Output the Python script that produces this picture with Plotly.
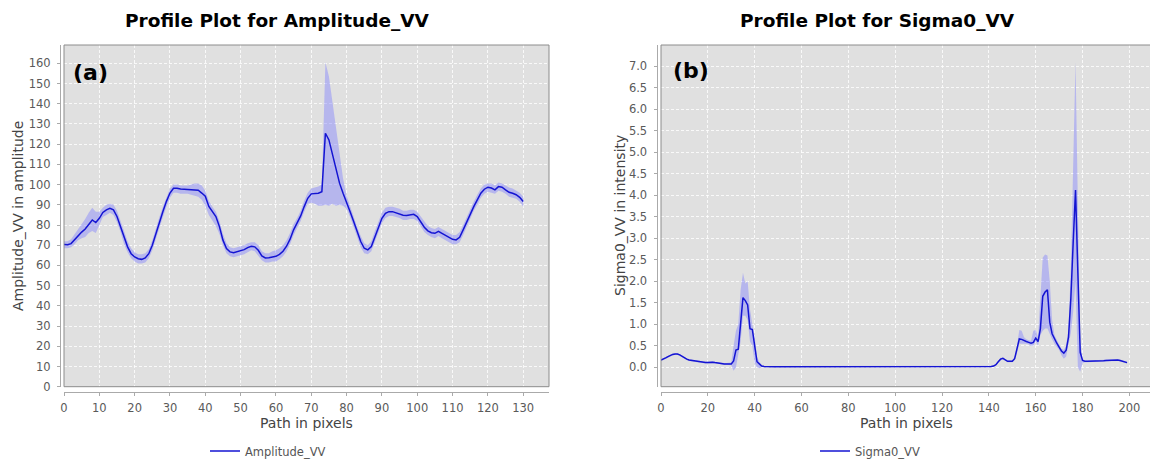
import plotly.graph_objects as go

W, H = 1150, 459

# ---------------- data: (a) Amplitude_VV ----------------
path_a = list(range(131))
amp = [
    70.3, 70.2, 70.8, 72.8, 74.7, 76.5, 78.0, 80.0, 82.5, 81.2,
    83.3, 86.2, 87.5, 88.2, 87.5, 84.2, 79.2, 73.3, 69.2, 65.8,
    64.2, 63.3, 63.0, 63.7, 65.8, 70.0, 75.8, 81.7, 86.7, 91.7,
    95.8, 98.2, 98.2, 97.8, 97.7, 97.5, 97.3, 97.2, 97.2, 95.8,
    94.2, 89.2, 86.7, 84.2, 79.2, 72.5, 68.3, 66.7, 66.3, 66.7,
    67.2, 67.8, 68.8, 69.5, 69.2, 67.5, 64.7, 63.7, 63.8, 64.2,
    64.5, 65.5, 67.0, 69.5, 73.0, 77.6, 80.9, 84.5, 89.1, 93.2,
    95.4, 95.7, 95.7, 96.5, 125.4, 122.1, 114.7, 107.3, 100.7, 95.7,
    91.6, 86.6, 81.7, 76.7, 71.8, 68.5, 67.7, 69.3, 74.3, 79.2,
    83.3, 85.8, 86.6, 86.6, 86.1, 85.5, 84.8, 84.7, 85.0, 85.3,
    84.2, 81.7, 78.9, 77.1, 76.2, 75.9, 76.9, 75.9, 74.9, 73.9,
    72.9, 72.6, 73.9, 77.6, 81.7, 85.8, 89.1, 92.4, 95.7, 97.7,
    98.7, 98.3, 97.4, 99.0, 98.7, 97.4, 96.2, 95.7, 95.0, 93.7,
    91.6,
]
amp_lo = [
    68.5, 68.5, 69.0, 70.5, 72.5, 73.5, 74.0, 76.0, 77.0, 76.0,
    80.0, 84.0, 85.0, 86.0, 85.0, 81.5, 76.5, 70.5, 66.5, 63.5,
    62.0, 61.0, 61.0, 61.5, 63.5, 67.5, 73.0, 79.0, 84.0, 89.0,
    93.5, 96.0, 96.0, 95.5, 95.5, 95.5, 95.0, 94.5, 94.0, 92.5,
    89.5, 85.0, 82.5, 79.5, 75.5, 70.0, 66.0, 64.5, 64.0, 64.5,
    65.0, 65.5, 66.5, 67.5, 67.0, 65.0, 62.5, 61.5, 61.5, 62.0,
    62.0, 63.0, 64.5, 67.0, 70.5, 75.0, 78.5, 82.0, 86.5, 90.5,
    91.0, 90.5, 89.5, 89.5, 90.0, 89.5, 90.5, 89.5, 90.0, 89.5,
    88.0, 84.0, 79.0, 74.0, 69.0, 66.0, 65.5, 67.0, 72.0, 77.0,
    81.0, 83.5, 84.5, 84.5, 84.0, 83.5, 82.5, 82.5, 83.0, 83.0,
    82.0, 79.5, 76.5, 75.0, 74.0, 73.5, 74.5, 73.5, 72.5, 71.5,
    70.5, 70.5, 71.5, 75.0, 79.0, 83.5, 87.0, 90.0, 93.5, 95.5,
    96.5, 96.0, 95.5, 97.0, 96.5, 95.5, 94.0, 93.5, 93.0, 91.5,
    89.0,
]
amp_hi = [
    72.0, 72.0, 73.0, 75.5, 78.0, 80.0, 83.0, 86.0, 88.5, 86.5,
    86.5, 88.5, 90.0, 90.5, 90.0, 87.0, 82.0, 76.0, 72.0, 68.5,
    66.5, 65.5, 65.5, 66.0, 68.0, 72.5, 78.5, 84.0, 89.0, 94.0,
    98.0, 100.0, 100.0, 99.5, 99.5, 99.5, 100.0, 100.5, 100.5, 99.5,
    97.0, 92.0, 89.0, 86.5, 82.0, 75.5, 71.0, 69.0, 68.5, 69.0,
    69.5, 70.0, 71.0, 71.5, 71.5, 70.0, 67.0, 66.0, 66.0, 67.0,
    67.5, 68.5, 70.0, 72.5, 76.0, 80.5, 83.5, 87.0, 92.0, 96.0,
    98.0, 98.5, 99.0, 100.0, 160.5, 153.5, 141.0, 127.0, 114.0, 103.0,
    94.5, 89.0, 84.0, 79.0, 74.5, 71.0, 70.0, 72.0, 77.0, 82.0,
    86.0, 88.5, 89.0, 89.0, 88.5, 88.0, 87.0, 87.0, 87.5, 87.5,
    86.5, 84.0, 81.5, 79.5, 78.5, 78.0, 79.0, 78.0, 77.0, 76.0,
    75.0, 75.0, 76.5, 80.0, 84.0, 88.0, 91.5, 95.0, 98.0, 100.0,
    100.5, 100.5, 99.5, 101.0, 100.5, 99.5, 98.5, 98.0, 97.0, 96.0,
    94.0,
]
ticks_a_x = [0, 10, 20, 30, 40, 50, 60, 70, 80, 90, 100, 110, 120, 130]
ticks_a_y = [0, 10, 20, 30, 40, 50, 60, 70, 80, 90, 100, 110, 120, 130, 140, 150, 160]

# ---------------- data: (b) Sigma0_VV ----------------
path_b = list(range(200))
sig = [
    0.17, 0.19, 0.22, 0.25, 0.28, 0.30, 0.31, 0.31, 0.29, 0.25,
    0.21, 0.19, 0.17, 0.16, 0.15, 0.15, 0.13, 0.12, 0.11, 0.11,
    0.11, 0.12, 0.12, 0.11, 0.10, 0.09, 0.08, 0.08, 0.08, 0.08,
    0.08, 0.15, 0.40, 0.42, 1.00, 1.62, 1.55, 1.45, 0.90, 0.88,
    0.50, 0.13, 0.08, 0.03, 0.02, 0.015, 0.015, 0.015, 0.015, 0.015,
    0.015, 0.015, 0.015, 0.015, 0.015, 0.015, 0.015, 0.015, 0.015, 0.015,
    0.015, 0.014, 0.014, 0.013, 0.013, 0.013, 0.012, 0.012, 0.012, 0.012,
    0.012, 0.012, 0.011, 0.011, 0.011, 0.011, 0.011, 0.010, 0.010, 0.010,
    0.010, 0.010, 0.010, 0.010, 0.010, 0.010, 0.010, 0.010, 0.010, 0.010,
    0.010, 0.010, 0.011, 0.011, 0.012, 0.012, 0.012, 0.013, 0.013, 0.013,
    0.014, 0.014, 0.015, 0.015, 0.016, 0.016, 0.017, 0.017, 0.018, 0.018,
    0.019, 0.019, 0.020, 0.020, 0.020, 0.020, 0.020, 0.019, 0.019, 0.018,
    0.018, 0.017, 0.017, 0.016, 0.016, 0.016, 0.016, 0.016, 0.016, 0.016,
    0.016, 0.016, 0.017, 0.017, 0.018, 0.018, 0.019, 0.019, 0.020, 0.020,
    0.020, 0.022, 0.030, 0.060, 0.13, 0.19, 0.21, 0.17, 0.14, 0.14,
    0.14, 0.20, 0.40, 0.66, 0.65, 0.62, 0.60, 0.58, 0.56, 0.58,
    0.68, 0.60, 0.90, 1.65, 1.75, 1.80, 1.05, 0.78, 0.65, 0.56,
    0.47, 0.38, 0.33, 0.40, 0.70, 1.60, 2.90, 4.12, 2.20, 0.35,
    0.16, 0.14, 0.14, 0.14, 0.14, 0.14, 0.145, 0.15, 0.15, 0.155,
    0.16, 0.165, 0.17, 0.175, 0.175, 0.17, 0.16, 0.14, 0.12, 0.11,
]
sig_lo = [
    0.15, 0.17, 0.20, 0.23, 0.26, 0.28, 0.29, 0.29, 0.27, 0.23,
    0.19, 0.17, 0.15, 0.14, 0.13, 0.13, 0.11, 0.10, 0.09, 0.09,
    0.09, 0.10, 0.10, 0.09, 0.08, 0.07, 0.06, 0.06, 0.06, 0.06,
    0.05, -0.08, 0.00, 0.30, 0.60, 1.20, 1.20, 1.10, 0.60, 0.50,
    0.10, 0.00, -0.02, 0.00, 0.005, 0.005, 0.005, 0.005, 0.005, 0.005,
    0.005, 0.005, 0.005, 0.005, 0.005, 0.005, 0.005, 0.005, 0.005, 0.005,
    0.005, 0.005, 0.005, 0.005, 0.005, 0.005, 0.005, 0.005, 0.005, 0.005,
    0.005, 0.005, 0.005, 0.005, 0.005, 0.005, 0.005, 0.005, 0.005, 0.005,
    0.005, 0.005, 0.005, 0.005, 0.005, 0.005, 0.005, 0.005, 0.005, 0.005,
    0.005, 0.005, 0.005, 0.005, 0.005, 0.005, 0.005, 0.005, 0.005, 0.005,
    0.005, 0.005, 0.005, 0.005, 0.005, 0.005, 0.005, 0.005, 0.005, 0.005,
    0.005, 0.005, 0.005, 0.005, 0.005, 0.005, 0.005, 0.005, 0.005, 0.005,
    0.005, 0.005, 0.005, 0.005, 0.005, 0.005, 0.005, 0.005, 0.005, 0.005,
    0.005, 0.005, 0.005, 0.005, 0.005, 0.005, 0.005, 0.005, 0.005, 0.005,
    0.005, 0.005, 0.010, 0.040, 0.11, 0.17, 0.19, 0.15, 0.12, 0.12,
    0.12, 0.17, 0.33, 0.55, 0.55, 0.55, 0.55, 0.53, 0.50, 0.50,
    0.60, 0.50, 0.75, 0.85, 0.90, 0.90, 0.75, 0.65, 0.55, 0.48,
    0.40, 0.28, 0.20, 0.25, 0.50, 0.80, 1.30, 2.00, 0.00, -0.10,
    0.10, 0.12, 0.12, 0.12, 0.12, 0.12, 0.125, 0.13, 0.13, 0.135,
    0.14, 0.145, 0.15, 0.155, 0.155, 0.15, 0.14, 0.12, 0.10, 0.09,
]
sig_hi = [
    0.19, 0.21, 0.24, 0.27, 0.30, 0.32, 0.33, 0.33, 0.31, 0.27,
    0.23, 0.21, 0.19, 0.18, 0.17, 0.17, 0.15, 0.14, 0.13, 0.13,
    0.13, 0.14, 0.14, 0.13, 0.12, 0.11, 0.10, 0.10, 0.10, 0.10,
    0.11, 0.50, 0.85, 1.00, 1.80, 2.20, 1.95, 2.00, 1.35, 1.00,
    0.70, 0.25, 0.12, 0.05, 0.03, 0.03, 0.03, 0.03, 0.03, 0.03,
    0.03, 0.03, 0.03, 0.03, 0.03, 0.03, 0.03, 0.03, 0.03, 0.03,
    0.03, 0.03, 0.03, 0.03, 0.03, 0.03, 0.03, 0.03, 0.03, 0.03,
    0.03, 0.03, 0.03, 0.03, 0.03, 0.03, 0.03, 0.03, 0.03, 0.03,
    0.03, 0.03, 0.03, 0.03, 0.03, 0.03, 0.03, 0.03, 0.03, 0.03,
    0.03, 0.03, 0.03, 0.03, 0.03, 0.03, 0.03, 0.03, 0.03, 0.03,
    0.03, 0.03, 0.03, 0.03, 0.03, 0.03, 0.03, 0.03, 0.03, 0.03,
    0.03, 0.03, 0.03, 0.03, 0.03, 0.03, 0.03, 0.03, 0.03, 0.03,
    0.03, 0.03, 0.03, 0.03, 0.03, 0.03, 0.03, 0.03, 0.03, 0.03,
    0.03, 0.03, 0.03, 0.03, 0.03, 0.03, 0.03, 0.03, 0.03, 0.03,
    0.03, 0.035, 0.05, 0.08, 0.15, 0.22, 0.23, 0.19, 0.16, 0.16,
    0.16, 0.24, 0.50, 0.87, 0.85, 0.70, 0.65, 0.63, 0.62, 0.85,
    0.87, 0.70, 1.70, 2.55, 2.62, 2.60, 2.00, 1.10, 0.75, 0.62,
    0.53, 0.43, 0.40, 0.50, 0.90, 2.30, 4.50, 7.10, 3.80, 0.60,
    0.20, 0.16, 0.16, 0.16, 0.16, 0.16, 0.165, 0.17, 0.17, 0.175,
    0.18, 0.185, 0.19, 0.195, 0.195, 0.19, 0.18, 0.16, 0.14, 0.13,
]
ticks_b_x = [0, 20, 40, 60, 80, 100, 120, 140, 160, 180, 200]
ticks_b_y = [0.0, 0.5, 1.0, 1.5, 2.0, 2.5, 3.0, 3.5, 4.0, 4.5, 5.0, 5.5, 6.0, 6.5, 7.0]
ticks_b_text = ["%.1f" % v for v in ticks_b_y]

assert len(amp) == len(amp_lo) == len(amp_hi) == len(path_a)
assert len(sig) == len(sig_lo) == len(sig_hi) == len(path_b)

# ---------------- styling ----------------
FONT = "DejaVu Sans"
LINE = "rgb(20,20,210)"
BAND = "rgba(125,125,255,0.42)"
BG = "rgb(224,224,224)"
GRID = "rgba(255,255,255,0.8)"
FRAME = "rgb(140,140,140)"
AXLINE = "rgb(170,170,170)"


def px(xp):
    return xp / W


def py(yp):
    return 1 - yp / H


fig = go.Figure()

fig.add_trace(go.Scatter(x=path_a, y=amp_lo, mode="lines", line=dict(width=0),
                         showlegend=False, hoverinfo="skip", xaxis="x", yaxis="y"))
fig.add_trace(go.Scatter(x=path_a, y=amp_hi, mode="lines", line=dict(width=0),
                         fill="tonexty", fillcolor=BAND, showlegend=False,
                         hoverinfo="skip", xaxis="x", yaxis="y"))
fig.add_trace(go.Scatter(x=path_a, y=amp, mode="lines", name="Amplitude_VV",
                         line=dict(color=LINE, width=1.5), xaxis="x", yaxis="y",
                         legend="legend"))

fig.add_trace(go.Scatter(x=path_b, y=sig_lo, mode="lines", line=dict(width=0),
                         showlegend=False, hoverinfo="skip", xaxis="x2", yaxis="y2"))
fig.add_trace(go.Scatter(x=path_b, y=sig_hi, mode="lines", line=dict(width=0),
                         fill="tonexty", fillcolor=BAND, showlegend=False,
                         hoverinfo="skip", xaxis="x2", yaxis="y2"))
fig.add_trace(go.Scatter(x=path_b, y=sig, mode="lines", name="Sigma0_VV",
                         line=dict(color=LINE, width=1.5), xaxis="x2", yaxis="y2",
                         legend="legend2"))

tickfont = dict(family=FONT, size=11.5, color="rgb(90,90,90)")
titlefont = dict(family=FONT, size=14, color="rgb(68,68,68)")

common_axis = dict(
    showline=True, linecolor=AXLINE, linewidth=1,
    ticks="outside", ticklen=3, tickcolor=AXLINE, tickwidth=1,
    showgrid=True, gridcolor=GRID, gridwidth=1, griddash="3px,2px",
    zeroline=False, tickfont=tickfont, anchor="free", automargin=False,
)

legend_common = dict(xanchor="left", yanchor="middle", xref="container", yref="container",
                     bgcolor="rgba(0,0,0,0)", itemwidth=30,
                     font=dict(family=FONT, size=11.5, color="rgb(85,85,85)"))


def label(text, x, y, size, color="black", angle=0, anchor="center"):
    return dict(text=text, xref="paper", yref="paper", x=px(x), y=py(y),
                xanchor=anchor, yanchor="middle", showarrow=False, textangle=angle,
                font=dict(family=FONT, size=size, color=color))


fig.update_layout(
    template="plotly_white",
    width=W, height=H, autosize=False,
    margin=dict(l=0, r=0, t=0, b=0, autoexpand=False),
    paper_bgcolor="white", plot_bgcolor=BG,
    font=dict(family=FONT),
    xaxis=dict(common_axis, domain=[px(64), px(549)], range=[0, 137.3],
               position=py(391.5), tickvals=ticks_a_x, ticklabelstandoff=3),
    yaxis=dict(common_axis, domain=[py(386.7), py(45)], range=[0, 169.05],
               position=px(60), tickvals=ticks_a_y, ticklabelstandoff=4),
    xaxis2=dict(common_axis, domain=[px(661), 1.0], range=[0, 208.8],
                position=py(391.5), tickvals=ticks_b_x, ticklabelstandoff=3),
    yaxis2=dict(common_axis, domain=[py(386.7), py(45)], range=[-0.45, 7.49],
                position=px(656.5), tickvals=ticks_b_y, ticktext=ticks_b_text,
                ticklabelstandoff=4),
    legend=dict(legend_common, x=px(205), y=py(451)),
    legend2=dict(legend_common, x=px(815), y=py(451)),
    shapes=[
        dict(type="rect", xref="x domain", yref="y domain", x0=0, x1=1, y0=0, y1=1,
             line=dict(color=FRAME, width=1), fillcolor="rgba(0,0,0,0)", layer="above"),
        dict(type="rect", xref="x2 domain", yref="y2 domain", x0=0, x1=1.05, y0=0, y1=1,
             line=dict(color=FRAME, width=1), fillcolor="rgba(0,0,0,0)", layer="above"),
    ],
    annotations=[
        label("<b>Profile Plot for Amplitude_VV</b>", 277, 20, 18.5),
        label("<b>Profile Plot for Sigma0_VV</b>", 877, 20, 18.5),
        label("<b>(a)</b>", 71, 72, 22, anchor="left"),
        label("<b>(b)</b>", 671, 71, 22, anchor="left"),
        label("Path in pixels", 306.5, 423, 14, color="rgb(68,68,68)"),
        label("Path in pixels", 906, 423, 14, color="rgb(68,68,68)"),
        label("Amplitude_VV in amplitude", 18, 216, 14, color="rgb(68,68,68)", angle=-90),
        label("Sigma0_VV in intensity", 620, 216, 14, color="rgb(68,68,68)", angle=-90),
    ],
)

fig.write_html("out.html", config={"displayModeBar": False},
               post_script="document.body.style.margin='0';document.body.style.overflow='hidden';")
